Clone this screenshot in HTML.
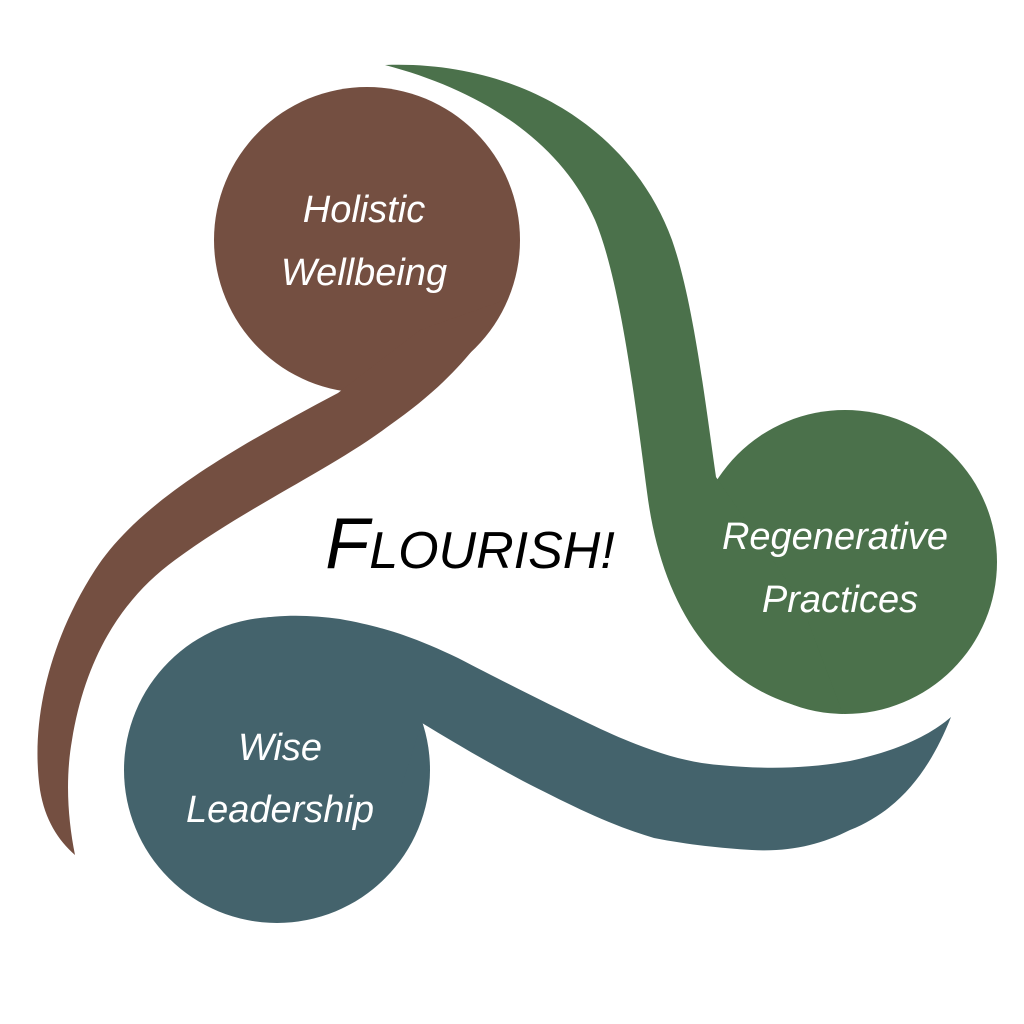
<!DOCTYPE html><html><head><style>body{margin:0;background:#fff}svg{display:block}</style></head><body>
<svg width="1024" height="1024" viewBox="0 0 1024 1024" xmlns="http://www.w3.org/2000/svg">
<g fill="#744f41">
<circle cx="367" cy="240" r="153"/>
<path d="M338,393 C240,445 140,500 95,570 C50,640 30,720 40,790 C45,820 58,840 75,855 C68,820 65,780 72,740 C85,660 120,600 175,560 C250,505 330,470 390,425 C440,390 480,350 505,300 L420,330 Z"/>
</g>
<g fill="#4b714b">
<circle cx="845" cy="562" r="152"/>
<path d="M385,65 C480,90 560,140 595,220 C620,280 635,400 647,492 C662,610 720,705 843,714 L800,600 L716,477 C705,400 693,300 672,240 C632,130 520,60 385,65 Z"/>
</g>
<g fill="#44636c">
<circle cx="277" cy="770" r="153"/>
<path d="M200,640 C240,615 290,612 340,619 C390,628 420,640 458,658 C510,685 550,705 588,723 C640,748 680,762 719,765 C770,770 810,768 850,761 C900,750 930,735 951,717 C930,770 900,810 850,830 C820,845 790,852 752,850 C720,848 690,845 654,838 C610,825 570,805 523,781 C480,758 450,740 422,723 L400,790 Z"/>
</g>
<g fill="#fff" font-family="Liberation Sans, sans-serif" font-style="italic" font-size="38" text-anchor="middle">
<text x="364" y="222">Holistic</text>
<text x="364" y="285">Wellbeing</text>
<text x="835" y="549">Regenerative</text>
<text x="840" y="612">Practices</text>
<text x="280" y="760">Wise</text>
<text x="280" y="822">Leadership</text>
</g>
<text x="470" y="568" text-anchor="middle" font-family="Liberation Sans, sans-serif" font-style="italic" fill="#000"><tspan font-size="72">F</tspan><tspan font-size="52">LOURISH!</tspan></text>
</svg>
</body></html>
